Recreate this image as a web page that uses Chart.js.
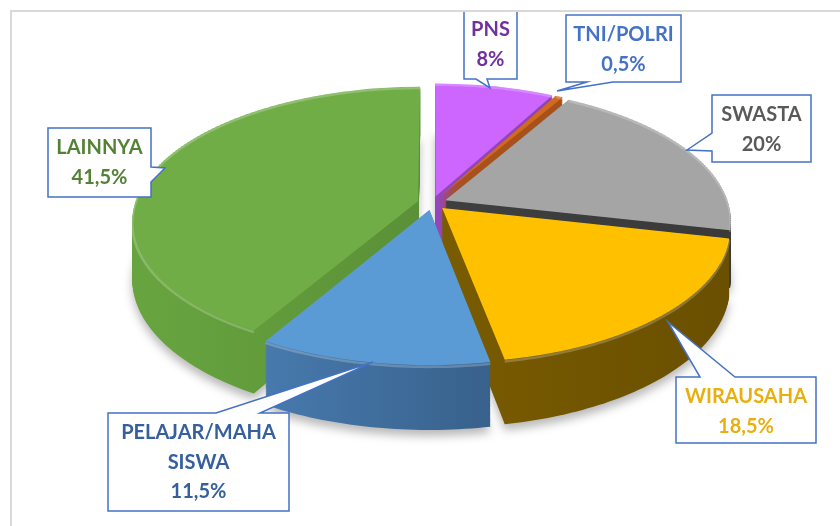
<!DOCTYPE html>
<html>
<head>
<meta charset="utf-8">
<script src="https://cdn.jsdelivr.net/npm/chart.js@4.4.1/dist/chart.umd.min.js"></script>
<style>
  html, body { margin: 0; padding: 0; background: #fff; }
  #wrap { width: 840px; height: 526px; }
</style>
</head>
<body>
<div id="wrap"><canvas id="pie" width="840" height="526"></canvas></div>
<script>
// data, clockwise from 12 o'clock
var categories = ['PNS', 'TNI/POLRI', 'SWASTA', 'WIRAUSAHA', 'PELAJAR/MAHA SISWA', 'LAINNYA'];
var percentages = [8, 0.5, 20, 18.5, 11.5, 41.5];

// styles
var topColors = ['#CC66FF', '#D2691E', '#A5A5A5', '#FFC000', '#5B9BD5', '#70AD47'];
var wallColors = [
  ['#9D4CC4', '#8B3FB3'],
  ['#B0561C', '#A24E1A'],
  ['#454545', '#3A3A3A'],
  ['#8A6700', '#6A5000'],
  ['#4F86BE', '#29496B'],
  ['#67A43F', '#4D7A2E']
];
var textColors = ['#7030A0', '#4472C4', '#595959', '#E9AF0E', '#35609D', '#548235'];

// fake perspective: centre, radius, front widening, y = a*Y + b*Y^2/R, explode, thickness
var view = { cx: 432, cy: 203, R: 283, p: 0.15, a: 0.474, b: 0.068, explode: 14.5, depth: 56 };

// label boxes (pointer sits on one side of the box)
var callouts = [
  { x: 464, y: 10,  w: 53,  h: 69,  side: 'bottom', base: [476, 487], tip: [490, 88] },
  { x: 566, y: 15,  w: 115, h: 67,  side: 'bottom', base: [587, 613], tip: [557, 91] },
  { x: 712, y: 95,  w: 99,  h: 67,  side: 'left',   base: [133, 151], tip: [687, 150] },
  { x: 676, y: 377, w: 140, h: 66,  side: 'top',    base: [700, 735], tip: [668, 322] },
  { x: 108, y: 413, w: 181, h: 98,  side: 'top',    base: [216, 260], tip: [373, 362] },
  { x: 48,  y: 128, w: 103, h: 69,  side: 'right',  base: [167, 182], tip: [165, 168] }
];

function pct(v) { return String(v).replace('.', ',') + '%'; }

function widen(Y) { return 1 + view.p * Y / view.R; }
function lift(Y) { return view.a * Y + view.b * Y * Y / view.R; }
function unlift(t) {
  var q = view.b / view.R;
  return (-view.a + Math.sqrt(view.a * view.a + 4 * q * t)) / (2 * q);
}
function project(X, Y, d) {
  var k = widen(Y);
  return [view.cx + X * k, view.cy + lift(Y) + d * k];
}

// slice outline in flat pie space, exploded
function outline(arc) {
  var mid = (arc.startAngle + arc.endAngle) / 2;
  var ex = Math.cos(mid) * view.explode, ey = Math.sin(mid) * view.explode;
  var pts = [[ex, ey]];
  var n = Math.max(2, Math.ceil((arc.endAngle - arc.startAngle) / 0.02));
  for (var j = 0; j <= n; j++) {
    var t = arc.startAngle + (arc.endAngle - arc.startAngle) * j / n;
    pts.push([ex + view.R * Math.cos(t), ey + view.R * Math.sin(t)]);
  }
  return { pts: pts, ex: ex, ey: ey };
}

function fillPoly(ctx, pts, d) {
  ctx.beginPath();
  pts.forEach(function (p, j) {
    var q = project(p[0], p[1], d);
    if (j === 0) ctx.moveTo(q[0], q[1]); else ctx.lineTo(q[0], q[1]);
  });
  ctx.closePath();
  ctx.fill();
}

var pie3d = {
  id: 'pie3d',
  beforeDatasetsDraw: function (chart) {
    var ctx = chart.ctx, W = chart.width;
    var arcs = chart.getDatasetMeta(0).data;
    var base = ctx.getTransform();
    var order = arcs.map(function (a, i) { return i; }).sort(function (a, b) {
      var ma = (arcs[a].startAngle + arcs[a].endAngle) / 2, mb = (arcs[b].startAngle + arcs[b].endAngle) / 2;
      return Math.sin(ma) - Math.sin(mb);
    });

    order.forEach(function (i) {
      var arc = arcs[i];
      var o = outline(arc);
      var s = view.R / arc.outerRadius;

      // side walls: stacked copies of the slice
      var g = ctx.createLinearGradient(view.cx - view.R, 0, view.cx + view.R, 0);
      g.addColorStop(0, wallColors[i][0]);
      g.addColorStop(1, wallColors[i][1]);
      ctx.save();
      ctx.fillStyle = g;
      for (var d = view.depth; d >= 1; d--) {
        if (d === view.depth) {
          ctx.shadowColor = 'rgba(0,0,0,0.28)';
          ctx.shadowBlur = 10;
          ctx.shadowOffsetY = 6;
        } else {
          ctx.shadowColor = 'rgba(0,0,0,0)';
          ctx.shadowBlur = 0;
          ctx.shadowOffsetY = 0;
        }
        fillPoly(ctx, o.pts, d);
      }
      ctx.restore();

      // top face, drawn by the arc element itself in thin horizontal bands
      var ys = o.pts.map(function (p) { return project(p[0], p[1], 0)[1]; });
      var y0 = Math.floor(Math.min.apply(null, ys)) - 2, y1 = Math.ceil(Math.max.apply(null, ys)) + 2;
      var step = 2;
      for (var y = y0; y < y1; y += step) {
        var Y0 = unlift(y - view.cy), Y1 = unlift(y + step - view.cy);
        var m = step / (Y1 - Y0);
        var k = widen((Y0 + Y1) / 2);
        ctx.save();
        ctx.beginPath();
        ctx.rect(0, y, W, step);
        ctx.clip();
        ctx.setTransform(base);
        ctx.transform(k * s, 0, 0, m * s, view.cx + k * (o.ex - s * arc.x), y + m * (o.ey - s * arc.y - Y0));
        arc.draw(ctx);
        ctx.restore();
      }

      // soft highlight along the front rim
      ctx.save();
      ctx.strokeStyle = 'rgba(255,255,255,0.22)';
      ctx.lineWidth = 2.5;
      ctx.beginPath();
      o.pts.slice(1).forEach(function (p, j) {
        var q = project(p[0], p[1], 1.5);
        if (j === 0) ctx.moveTo(q[0], q[1]); else ctx.lineTo(q[0], q[1]);
      });
      ctx.stroke();
      ctx.restore();
    });
    return false;
  },
  afterDraw: function (chart) {
    var ctx = chart.ctx;
    ctx.save();
    ctx.beginPath();
    ctx.rect(12, 12, chart.width - 12, chart.height - 12);
    ctx.clip();
    callouts.forEach(function (c, i) {
      var x0 = c.x, y0 = c.y, x1 = c.x + c.w, y1 = c.y + c.h, a = c.base[0], b = c.base[1], t = c.tip;
      ctx.beginPath();
      ctx.moveTo(x0, y0);
      if (c.side === 'top') { ctx.lineTo(a, y0); ctx.lineTo(t[0], t[1]); ctx.lineTo(b, y0); }
      ctx.lineTo(x1, y0);
      if (c.side === 'right') { ctx.lineTo(x1, a); ctx.lineTo(t[0], t[1]); ctx.lineTo(x1, b); }
      ctx.lineTo(x1, y1);
      if (c.side === 'bottom') { ctx.lineTo(b, y1); ctx.lineTo(t[0], t[1]); ctx.lineTo(a, y1); }
      ctx.lineTo(x0, y1);
      if (c.side === 'left') { ctx.lineTo(x0, b); ctx.lineTo(t[0], t[1]); ctx.lineTo(x0, a); }
      ctx.closePath();
      ctx.fillStyle = '#fff';
      ctx.fill();
      ctx.lineWidth = 1.5;
      ctx.strokeStyle = '#4472C4';
      ctx.stroke();

      var lines = categories[i].split(' ').concat([pct(percentages[i])]);
      ctx.fillStyle = textColors[i];
      ctx.font = 'bold 20px Lato';
      ctx.textAlign = 'center';
      ctx.textBaseline = 'middle';
      lines.forEach(function (s, j) {
        ctx.fillText(s, c.x + c.w / 2, c.y + 20 + 29.5 * j);
      });
    });
    ctx.restore();

    // chart area frame
    ctx.fillStyle = '#D9D9D9';
    ctx.fillRect(10, 10, chart.width - 10, 2);
    ctx.fillRect(10, 10, 2, chart.height - 10);
  }
};

new Chart(document.getElementById('pie'), {
  type: 'pie',
  data: {
    labels: categories,
    datasets: [{
      data: percentages,
      backgroundColor: topColors,
      borderWidth: 0
    }]
  },
  options: {
    responsive: false,
    animation: false,
    layout: { padding: 0 },
    plugins: {
      legend: { display: false },
      tooltip: { enabled: false }
    }
  },
  plugins: [pie3d]
});
</script>
</body>
</html>
